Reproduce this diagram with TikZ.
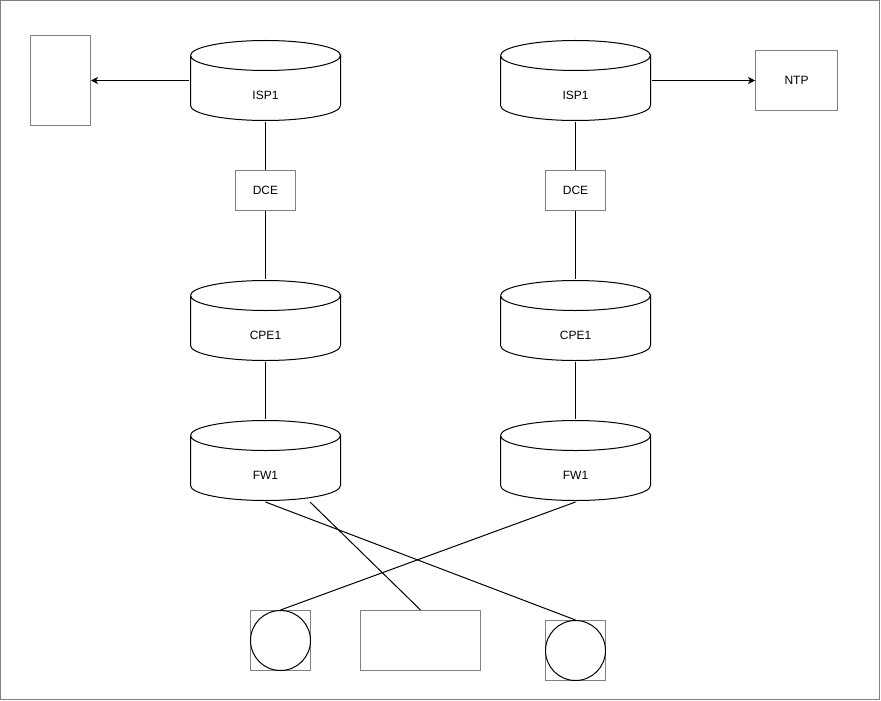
\documentclass[tikz,border=0pt]{standalone}
\usepackage{fontspec}
\setmainfont{Liberation Sans}
\usetikzlibrary{shapes.geometric, arrows.meta}
\definecolor{edgegray}{RGB}{128,128,128}
\tikzset{store/.style={rectangle, minimum width=152bp, minimum height=82bp, inner sep=0pt,
    path picture={\draw[black, fill=white, shift={(path picture bounding box.center)}]
        (-75,-25) -- (-75,25) arc[start angle=180, end angle=0, x radius=75, y radius=15] -- (75,-25)
        arc[start angle=0, end angle=180, x radius=75, y radius=15];
      \draw[black, shift={(path picture bounding box.center)}]
        (-75,-25) arc[start angle=180, end angle=360, x radius=75, y radius=15];},
    label={[yshift=-15bp]center:#1}}}
\tikzstyle{unit} = [rectangle, minimum width=60bp, minimum height=40bp, text centered, draw=edgegray, fill=white]
\tikzstyle{hostframe} = [rectangle, minimum width=60bp, minimum height=60bp, inner sep=0pt, draw=edgegray, fill=white]
\tikzstyle{host} = [circle, minimum size=60bp, inner sep=0pt, draw=black]
\tikzstyle{arrow} = [->,>={Stealth[length=7bp, width=7bp, inset=2bp]}]

\begin{document}
\begin{tikzpicture}[x=1bp, y=-1bp, line width=1bp, node distance=110bp, font=\fontsize{12bp}{14bp}\selectfont]
        \useasboundingbox (0,0) rectangle (881,701);
        \begin{scope}[shift={(0.5,0.5)}]
        \draw[edgegray] (0,0) rectangle (879,699);

        % Nodes
        \node (ispA) [store=ISP1] at (265,80) {};
        \node (dceA) [unit, below of=ispA] {DCE};
        \node (cpeA) [store=CPE1, below of=dceA, yshift=-20bp] {};
        \node (fwA) [store=FW1, below of=cpeA, yshift=-30bp] {};
        \node (ispB) [store=ISP1, right of=ispA, xshift=200bp] {};
        \node (dceB) [unit, below of=ispB] {DCE};
        \node (cpeB) [store=CPE1, below of=dceB, yshift=-20bp] {};
        \node (fwB) [store=FW1, below of=cpeB, yshift=-30bp] {};
        \node (spare) [unit, minimum height=90bp, left of=ispA, xshift=-95bp] {};
        \node (ntp) [unit, minimum width=82bp, minimum height=60bp, right of=ispB, xshift=111bp] {NTP};
        \node (hostAframe) [hostframe] at (280,640) {};
        \node (hostA) [host] at (280,640) {};
        \node (server) [unit, minimum width=120bp, minimum height=60bp] at (420,640) {};
        \node (hostBframe) [hostframe] at (575,650) {};
        \node (hostB) [host] at (575,650) {};

        % Links
        \draw (ispA) -- (dceA);
        \draw (dceA) -- (cpeA);
        \draw (cpeA) -- (fwA);
        \draw (ispB) -- (dceB);
        \draw (dceB) -- (cpeB);
        \draw (cpeB) -- (fwB);
        \draw [arrow] (ispA.west) -- (spare.east);
        \draw [arrow] (ispB.east) -- (ntp.west);
        \draw (fwA.south) -- (hostB.north);
        \draw (fwA.-43) -- (server.north);
        \draw (fwB.south) -- (hostA.north);
        \end{scope}
\end{tikzpicture}
\end{document}
